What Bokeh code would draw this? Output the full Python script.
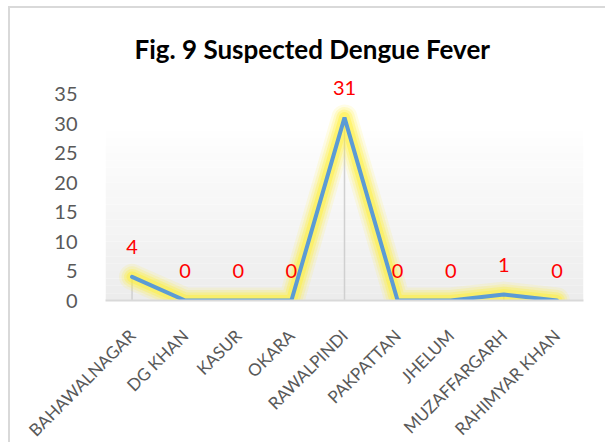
import math
from bokeh.plotting import figure
from bokeh.models import ColumnDataSource, LabelSet, FixedTicker, BoxAnnotation, Range1d
from bokeh.core.properties import value
from bokeh.embed import file_html
from bokeh.resources import INLINE

districts = ["BAHAWALNAGAR", "DG KHAN", "KASUR", "OKARA", "RAWALPINDI",
             "PAKPATTAN", "JHELUM", "MUZAFFARGARH", "RAHIMYAR KHAN"]
cases = [4, 0, 0, 0, 31, 0, 0, 1, 0]
y_ticks = [0, 5, 10, 15, 20, 25, 30, 35]
title_text = "Fig. 9 Suspected Dengue Fever"

src = ColumnDataSource(dict(x=districts, y=cases, base=[0] * len(cases),
                            lab=[str(v) for v in cases]))

p = figure(x_range=districts, y_range=Range1d(0, 40), width=605, height=442,
           output_backend="svg", toolbar_location=None,
           min_border_left=95, min_border_right=32, min_border_top=56, min_border_bottom=143)
p.styles = {"margin-left": "8px", "margin-top": "6px",
            "border-top": "2px solid #D9D9D9", "border-left": "2px solid #D9D9D9"}
p.outline_line_color = None
p.background_fill_color = "white"
p.border_fill_color = "white"
p.xgrid.visible = False
p.ygrid.visible = False

p.title.text = title_text
p.title.align = "left"
p.title.offset = 29
p.title.standoff = 0
p.title.text_font = "Lato"
p.title.text_font_style = "bold"
p.title.text_font_size = "26px"
p.title.text_color = "#000000"

# soft vertical gradient in the plot area (white top -> light gray bottom)
nb = 24
for i in range(nb):
    lo = 30 * i / nb
    hi = 30 * (i + 1) / nb
    t = (i + 0.5) / nb
    g = int(round(236 + (255 - 236) * t))
    p.add_layout(BoxAnnotation(bottom=lo, top=hi, fill_color=(g, g, g), fill_alpha=1.0,
                               line_color=None, level="underlay"))

# drop lines
p.segment(x0="x", y0="base", x1="x", y1="y", source=src, line_color="#D0D0D0", line_width=1.5)

# glow
for w, a in [(26, 0.12), (21, 0.18), (16, 0.28), (11, 0.4)]:
    p.line("x", "y", source=src, line_color="#FFEF30", line_width=w, line_alpha=a,
           line_join="round", line_cap="round")

p.line("x", "y", source=src, line_color="#5B9BD5", line_width=4, line_cap="round")

labels = LabelSet(x="x", y="y", text="lab", source=src, y_offset=30, text_align="center",
                  text_baseline="middle", text_color="#FF0000", text_font=value("Lato"),
                  text_font_size="20px")
p.add_layout(labels)

p.yaxis.ticker = FixedTicker(ticks=y_ticks)
p.yaxis.axis_line_color = None
p.yaxis.major_tick_line_color = None
p.yaxis.minor_tick_line_color = None
p.yaxis.major_label_standoff = 22
p.yaxis.major_label_text_font = "Lato"
p.yaxis.major_label_text_font_size = "20px"
p.yaxis.major_label_text_color = "#595959"

p.xaxis.axis_line_color = "#D9D9D9"
p.xaxis.axis_line_width = 2
p.xaxis.major_tick_line_color = None
p.xaxis.minor_tick_line_color = None
p.xaxis.major_label_orientation = math.pi / 4
p.xaxis.major_label_standoff = 26
p.xaxis.major_label_text_font = "Lato"
p.xaxis.major_label_text_font_size = "17px"
p.xaxis.major_label_text_color = "#595959"

open("out.html", "w").write(file_html(p, INLINE))
